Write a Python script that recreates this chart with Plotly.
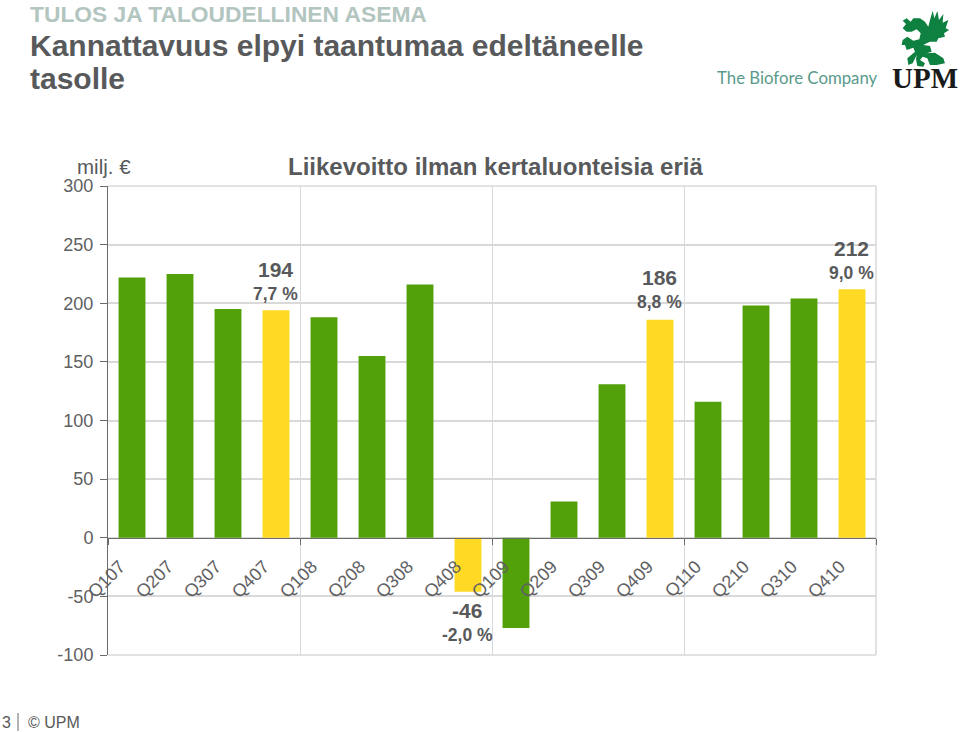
import plotly.graph_objects as go

categories = ["Q107","Q207","Q307","Q407","Q108","Q208","Q308","Q408",
              "Q109","Q209","Q309","Q409","Q110","Q210","Q310","Q410"]
values = [222, 225, 195, 194, 188, 155, 216, -46, -77, 31, 131, 186, 116, 198, 204, 212]
highlight = ["Q407", "Q408", "Q409", "Q410"]
y_ticks = [-100, -50, 0, 50, 100, 150, 200, 250, 300]
y_labels = ["-100", "-50", "0", "50", "100", "150", "200", "250", "300"]
year_edges = [-0.5, 3.5, 7.5, 11.5, 15.5]
callouts = [
    ("Q407", "194", "7,7 %", 229, 208),
    ("Q409", "186", "8,8 %", 222, 201),
    ("Q410", "212", "9,0 %", 247, 226),
    ("Q408", "-46", "-2,0 %", -62, -83),
]

W, H = 960, 732
L, R, T, B = 108, 876, 186, 655
GREEN, YELLOW = "#52a00a", "#ffd924"
TEXT = "#58595b"
TICK = "#5f6062"
FONT = "Liberation Sans"

def px(x): return (x - L) / (R - L)
def py(y): return (B - y) / (B - T)

idx = list(range(len(categories)))
fig = go.Figure(go.Bar(
    x=idx, y=values, width=0.56,
    marker=dict(color=[YELLOW if c in highlight else GREEN for c in categories], line_width=0),
))

def note(x, y, text, size, color=TEXT, bold=False, anchor="left", font=FONT, xdata=False, ydata=False, xshift=0):
    fig.add_annotation(
        x=x if xdata else px(x), y=y if ydata else py(y),
        xref="x" if xdata else "paper", yref="y" if ydata else "paper",
        text=f"<b>{text}</b>" if bold else text, showarrow=False,
        xanchor=anchor, yanchor="middle", borderpad=0, borderwidth=0, xshift=xshift,
        font=dict(family=font, size=size, color=color),
    )

note(30, 14, "TULOS JA TALOUDELLINEN ASEMA", 22.8, "#b2c5bf", True)
note(30, 45, "Kannattavuus elpyi taantumaa edeltäneelle", 30, TEXT, True)
note(30, 79, "tasolle", 30, TEXT, True)
note(77, 166, "milj. €", 20.5)
note(495, 166, "Liikevoitto ilman kertaluonteisia eriä", 24, TEXT, True, "center")
note(2, 722, "3", 16)
note(28, 722, "© UPM", 16)
for cat, top, sub, ytop, ysub in callouts:
    i = categories.index(cat)
    note(i, ytop, top, 21, TEXT, True, "center", xdata=True, ydata=True, xshift=-1)
    note(i, ysub, sub, 17.5, TEXT, True, "center", xdata=True, ydata=True, xshift=-1)

# logo wording
note(717, 78, "The Biofore Company", 16.8, "#5a9a8c", False, "left", "Lato")
note(925, 78, "<b>UPM</b>", 29, "#1a1a1a", False, "center", "Liberation Serif")

griffin = [(68,62),(80,55),(92,65),(100,55),(120,55),(135,65),(145,80),(150,60),(158,32),(163,55),
           (172,33),(177,60),(190,42),(188,68),(205,60),(197,85),(207,90),(192,100),(195,110),(175,115),
           (170,125),(150,125),(140,130),(130,135),(150,138),(155,155),(140,160),(165,158),(190,175),(195,190),
           (170,195),(150,195),(142,175),(128,170),(120,180),(135,190),(130,200),(112,198),(108,178),(110,165),
           (98,190),(85,195),(82,175),(105,155),(100,143),(80,150),(75,135),(65,135),(68,120),(82,110),
           (100,122),(118,118),(122,100),(110,88),(95,95),(80,95),(68,85),(78,72)]
d = "M " + " L ".join(f"{px(880 + a / 3):.4f},{py(b / 3):.4f}" for a, b in griffin) + " Z"
fig.add_shape(type="path", path=d, xref="paper", yref="paper", fillcolor="#0e8140", line_width=0)

# page-number separator
fig.add_shape(type="line", xref="paper", yref="paper", x0=px(18), x1=px(18), y0=py(713), y1=py(731),
              line=dict(color="#666666", width=1))
# plot frame: top, bottom and right edges
for x0, y0, x1, y1 in [(0, 0, 1, 0), (0, 1, 1, 1), (1, 0, 1, 1)]:
    fig.add_shape(type="line", xref="paper", yref="paper", x0=x0, y0=y0, x1=x1, y1=y1,
                  line=dict(color="#d9d9d9", width=1.5), layer="below")

fig.update_layout(
    width=W, height=H,
    margin=dict(l=L, r=W - R, t=T, b=H - B, pad=0),
    paper_bgcolor="white", plot_bgcolor="white",
    showlegend=False, font=dict(family=FONT, size=18, color=TICK),
    xaxis=dict(
        type="linear", range=[-0.5, 15.5],
        tickmode="array", tickvals=idx, ticktext=categories, tickangle=-45,
        ticks="", showgrid=False, zeroline=False,
        showline=True, linecolor="#6b6b6b", linewidth=1,
        anchor="free", position=py(538),
        ticklabelstandoff=10, ticklabelshift=-12,
        tickfont=dict(family=FONT, size=18, color=TICK),
        minor=dict(tickmode="array", tickvals=year_edges, showgrid=True, gridcolor="#d6d9e0", gridwidth=1,
                   ticks="outside", ticklen=6, tickcolor="#6b6b6b"),
    ),
    yaxis=dict(
        range=[-100, 300], tickmode="array", tickvals=y_ticks, ticktext=y_labels,
        ticks="outside", ticklen=7, ticklabelstandoff=3,
        tickcolor="#6b6b6b", showline=True, linecolor="#6b6b6b", linewidth=1,
        showgrid=True, gridcolor="#d9d9d9", gridwidth=1.5, zeroline=False,
        tickfont=dict(family=FONT, size=18, color=TICK),
    ),
)
fig.write_html("out.html", config={"displayModeBar": False},
               post_script="document.body.style.margin='0';document.documentElement.style.overflow='hidden';")
